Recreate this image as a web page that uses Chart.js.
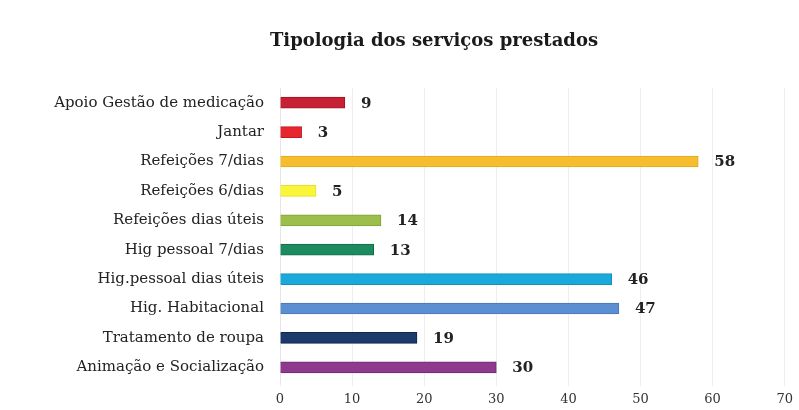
<!DOCTYPE html>
<html>
<head>
<meta charset="utf-8">
<script src="https://cdn.jsdelivr.net/npm/chart.js@4"></script>
<style>
  body { margin: 0; background: #fff; }
  #wrap { width: 799px; height: 410px; }
</style>
</head>
<body>
<div id="wrap"><canvas id="chart" width="799" height="410"></canvas></div>
<script>
const categories = [
    'Apoio Gestão de medicação',
    'Jantar',
    'Refeições 7/dias',
    'Refeições 6/dias',
    'Refeições dias úteis',
    'Hig pessoal 7/dias',
    'Hig.pessoal dias úteis',
    'Hig. Habitacional',
    'Tratamento de roupa',
    'Animação e Socialização'
];
const values = [9, 3, 58, 5, 14, 13, 46, 47, 19, 30];
const barColors = ['#c71f33', '#e8262e', '#f6be2f', '#f8f53a', '#9cbe4c', '#1c8b62', '#1aa9da', '#5b8fd2', '#1c3a6c', '#8d3a8f'];
const borderColors = ['#9c1424', '#c01a22', '#e0a820', '#e8e020', '#7fa036', '#136a48', '#1490bd', '#4477b8', '#10254a', '#6e2a70'];
const xTicks = [0, 10, 20, 30, 40, 50, 60, 70];
const chartTitle = 'Tipologia dos serviços prestados';

const serif = "'DejaVu Serif', serif";

// title sits left of the canvas centre in the original, so draw it ourselves
const titleText = {
    id: 'titleText',
    afterDraw(chart) {
        const ctx = chart.ctx;
        ctx.save();
        ctx.font = 'bold 18px ' + serif;
        ctx.fillStyle = '#1a1a1a';
        ctx.textAlign = 'center';
        ctx.textBaseline = 'middle';
        ctx.fillText(chartTitle, 434, 41);
        ctx.restore();
    }
};

// draws the value next to each bar
const valueLabels = {
    id: 'valueLabels',
    afterDatasetsDraw(chart) {
        const ctx = chart.ctx;
        const meta = chart.getDatasetMeta(0);
        ctx.save();
        ctx.font = 'bold 15px ' + serif;
        ctx.fillStyle = '#222';
        ctx.textBaseline = 'middle';
        meta.data.forEach((bar, i) => {
            ctx.fillText(String(values[i]), bar.x + 16, bar.y + 1);
        });
        ctx.restore();
    }
};

const ctx = document.getElementById('chart').getContext('2d');
try {
    new Chart(ctx, {
        type: 'bar',
        data: {
            labels: categories,
            datasets: [{
                data: values,
                backgroundColor: barColors,
                borderColor: borderColors,
                borderWidth: 1,
                barThickness: 11
            }]
        },
        options: {
            indexAxis: 'y',
            responsive: false,
            animation: false,
            layout: { padding: { left: 0, right: 11, top: 88, bottom: 0 } },
            scales: {
                x: {
                    min: 0,
                    max: 70,
                    afterBuildTicks: scale => { scale.ticks = xTicks.map(v => ({ value: v })); },
                    afterFit: scale => { scale.height = 28; },
                    grid: { color: '#eeeeee', drawTicks: true, tickLength: 4 },
                    border: { display: false },
                    ticks: {
                        color: '#333',
                        font: { family: serif, size: 13 },
                        padding: 6
                    }
                },
                y: {
                    afterFit: scale => { scale.width = 280; },
                    grid: { display: false },
                    border: { color: '#e6e6e6' },
                    ticks: {
                        color: '#222',
                        font: { family: serif, size: 15 },
                        padding: 8
                    }
                }
            },
            plugins: {
                legend: { display: false },
                tooltip: { enabled: false },
                title: { display: false }
            }
        },
        plugins: [valueLabels, titleText]
    });
} catch (error) {
    console.error('Error rendering chart:', error);
}
</script>
</body>
</html>
